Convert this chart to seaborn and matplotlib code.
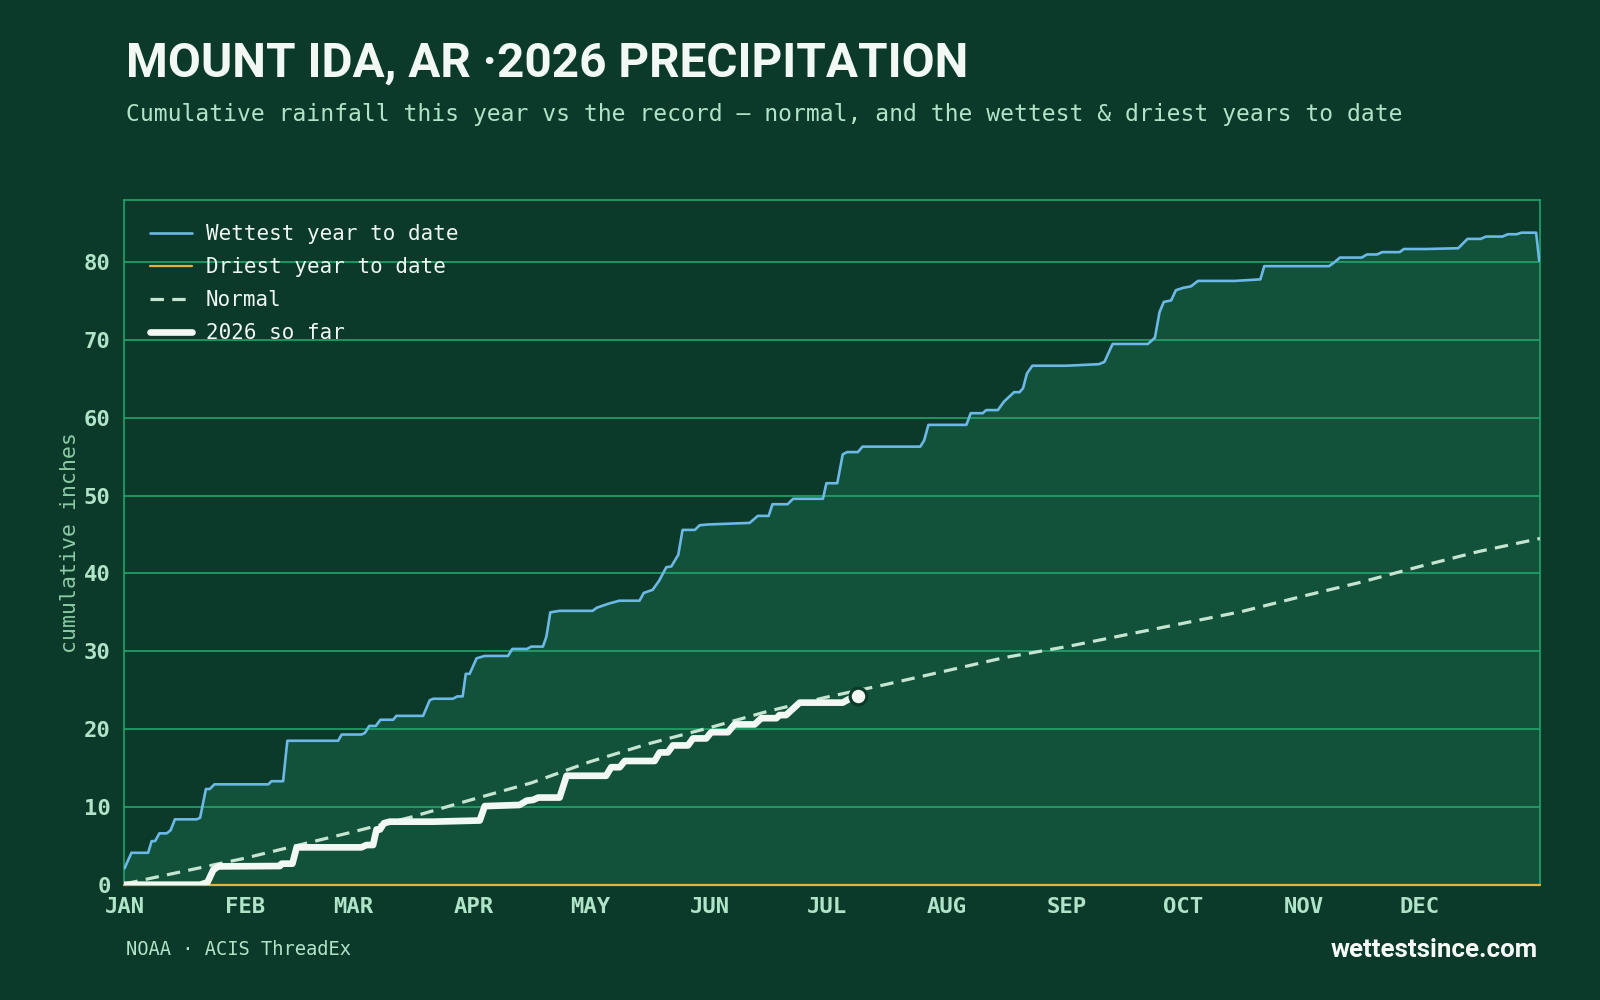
"""
Mount Ida, AR cumulative precipitation: 2026 vs wettest, driest and normal
"""

import numpy as np
import pandas as pd
import matplotlib
matplotlib.use('Agg')
import matplotlib.pyplot as plt
import seaborn as sns

# Day-of-year positions for month labels
month_days = [0, 31, 59, 90, 120, 151, 181, 212, 243, 273, 304, 334]
month_labels = ['JAN', 'FEB', 'MAR', 'APR', 'MAY', 'JUN',
                'JUL', 'AUG', 'SEP', 'OCT', 'NOV', 'DEC']

# Wettest year to date (day of year, cumulative inches)
wet_day = [0, 1.8, 6.1, 7, 7.9, 9, 10.9, 11.9, 13, 18.6,
           19.5, 21, 22, 23.2, 37.1, 37.9, 40.9, 42, 55.1, 56,
           61.1, 62, 63.1, 64.8, 66, 69.3, 70.1, 77, 78.7, 79.6,
           84.7, 85.8, 87.2, 88, 89, 90.8, 92.9, 98.9, 100, 103.8,
           104.9, 107.9, 108.8, 109.8, 112.2, 120.7, 121.8, 124.7, 127.6, 132.8,
           133.9, 136.2, 137.9, 139.7, 141, 142.8, 143.9, 147.1, 148.3, 150.6,
           161.2, 163.3, 166.1, 167.1, 171, 172.4, 180.1, 181, 183.8, 185.2,
           186.3, 189.1, 190.3, 205.2, 206.2, 207.3, 217.1, 218.2, 221.3, 222.2,
           225.2, 226.8, 229.4, 230.8, 231.7, 232.7, 234.1, 242.9, 251.3, 252.7,
           254.8, 263.9, 265.7, 266.9, 268, 269.9, 271.1, 272.9, 275, 276.8,
           286.2, 292.9, 293.9, 310.6, 312, 313.4, 319, 320.4, 323, 324.3,
           328.8, 329.9, 335.5, 343.9, 346.3, 349.7, 351.1, 355.3, 356.7, 359,
           360.2, 364, 364.8]
wet_val = [2.1, 4.1, 4.1, 5.6, 5.6, 6.6, 6.6, 7.0, 8.4, 8.4,
           8.6, 12.3, 12.3, 12.9, 12.9, 13.3, 13.3, 18.5, 18.5, 19.3,
           19.3, 19.5, 20.4, 20.4, 21.2, 21.2, 21.7, 21.7, 23.7, 23.9,
           23.9, 24.2, 24.2, 27.1, 27.1, 29.1, 29.4, 29.4, 30.3, 30.3,
           30.6, 30.6, 31.9, 35.0, 35.2, 35.2, 35.6, 36.1, 36.5, 36.5,
           37.5, 37.9, 39.1, 40.8, 40.9, 42.4, 45.6, 45.6, 46.2, 46.3,
           46.5, 47.4, 47.4, 48.9, 48.9, 49.6, 49.6, 51.6, 51.6, 55.3,
           55.6, 55.6, 56.3, 56.3, 57.1, 59.1, 59.1, 60.6, 60.6, 61.0,
           61.0, 62.1, 63.3, 63.3, 63.8, 65.7, 66.7, 66.7, 66.9, 67.2,
           69.5, 69.5, 70.3, 73.6, 74.9, 75.1, 76.4, 76.7, 76.9, 77.6,
           77.6, 77.8, 79.5, 79.5, 80.0, 80.6, 80.6, 81.0, 81.0, 81.3,
           81.3, 81.7, 81.7, 81.8, 83.0, 83.0, 83.3, 83.3, 83.6, 83.6,
           83.8, 83.8, 80.2]

# Driest year to date: nothing all year
dry_day = [0, 365]
dry_val = [0.0, 0.0]

# Normal cumulative precipitation
normal_day = [0, 15, 31, 45, 59, 74, 90, 105, 120, 135, 151, 166, 181,
              196, 212, 227, 243, 258, 273, 288, 304, 319, 334, 349, 365]
normal_val = [0.1, 1.7, 3.4, 5.1, 6.8, 8.7, 11.0, 13.1, 15.8, 18.1, 20.2, 22.3, 24.1,
              25.7, 27.5, 29.2, 30.6, 32.1, 33.6, 35.1, 37.1, 38.9, 40.9, 42.8, 44.5]

# 2026 so far
y26_day = [0, 19.5, 21.4, 22.9, 24.2, 40.1, 40.5, 43.3, 44.4, 61.1,
           62.4, 64.1, 65, 65.9, 66.9, 68.4, 79.6, 91.6, 92.9, 101.9,
           103.7, 105.4, 106.7, 112.2, 114, 124.2, 125.5, 127.7, 129, 136.7,
           138, 140.1, 141.4, 145.3, 146.6, 150, 151.3, 155.6, 157.3, 162.5,
           164.2, 168.1, 168.9, 170.6, 174.1, 185.2, 187, 189.1]
y26_val = [0, 0, 0.3, 1.9, 2.35, 2.4, 2.7, 2.7, 4.8, 4.8,
           5.1, 5.1, 7.1, 7.1, 7.9, 8.1, 8.1, 8.25, 10.1, 10.25,
           10.8, 10.9, 11.2, 11.2, 14.0, 14.0, 15.1, 15.1, 15.9, 15.9,
           17.0, 17.0, 17.9, 17.9, 18.8, 18.8, 19.6, 19.6, 20.6, 20.6,
           21.4, 21.4, 21.8, 21.8, 23.4, 23.4, 23.9, 24.3]

# Colors
BG = '#0c3a2a'
FILL = '#13523a'
GRID = '#21a36b'
MINT = '#b0e4c8'
WET_C = '#6cb8e6'
DRY_C = '#e8b23a'
NORM_C = '#c6e4d2'
Y26_C = '#f2f8f4'

sns.set_theme(style='dark', rc={
    'figure.facecolor': BG,
    'axes.facecolor': BG,
    'axes.edgecolor': GRID,
    'savefig.facecolor': BG,
})
plt.rcParams['font.family'] = ['DejaVu Sans Mono', 'DejaVu Sans']

fig = plt.figure(figsize=(16, 10), dpi=100)
ax = fig.add_axes([0.0778, 0.1153, 0.8847, 0.6847])

wet_df = pd.DataFrame({'day': wet_day, 'inches': wet_val})
dry_df = pd.DataFrame({'day': dry_day, 'inches': dry_val})
norm_df = pd.DataFrame({'day': normal_day, 'inches': normal_val})
y26_df = pd.DataFrame({'day': y26_day, 'inches': y26_val})

ax.fill_between(wet_df['day'], 0, wet_df['inches'], color=FILL, lw=0, zorder=1)

sns.lineplot(data=wet_df, x='day', y='inches', ax=ax, color=WET_C, lw=1.9,
             label='Wettest year to date', zorder=3)
sns.lineplot(data=dry_df, x='day', y='inches', ax=ax, color=DRY_C, lw=1.6,
             label='Driest year to date', zorder=3, clip_on=False)
sns.lineplot(data=norm_df, x='day', y='inches', ax=ax, color=NORM_C, lw=2.3,
             label='Normal', zorder=4, dashes=False)
ax.lines[-1].set_dashes([4.2, 2.6])
sns.lineplot(data=y26_df, x='day', y='inches', ax=ax, color=Y26_C, lw=4.8,
             label='2026 so far', zorder=5)
ax.plot([y26_day[-1]], [y26_val[-1]], 'o', ms=12, mfc=Y26_C, mec=BG, mew=2.3,
        zorder=6)

ax.set_xlim(0, 365)
ax.set_ylim(0, 88)
ax.set_xticks(month_days)
ax.set_xticklabels(month_labels)
ax.set_yticks(range(0, 81, 10))

ax.set_axisbelow('line')
ax.grid(axis='y', color=GRID, lw=1.2)
ax.grid(axis='x', visible=False)
for side in ['left', 'right', 'top', 'bottom']:
    ax.spines[side].set_color(GRID)
    ax.spines[side].set_linewidth(1.2)

ax.tick_params(axis='both', colors='#8a9e94', length=6, width=1,
               labelcolor=MINT, labelsize=16)
ax.tick_params(axis='x', pad=3)
ax.tick_params(axis='y', length=5, pad=5)
for lbl in ax.get_xticklabels() + ax.get_yticklabels():
    lbl.set_fontweight('bold')

ax.set_xlabel('')
ax.set_ylabel('cumulative inches', color='#8cc9a6', fontsize=15.5, labelpad=3)

leg = ax.legend(loc='upper left', bbox_to_anchor=(0.005, 0.992), frameon=False,
                fontsize=15, handlelength=2.0, handletextpad=0.65,
                labelspacing=0.62)
for t in leg.get_texts():
    t.set_color('#eef7f1')

fig.text(0.0785, 0.9235, 'MOUNT IDA, AR ·2026 PRECIPITATION', color='#f2f8f4',
         fontsize=34.4, fontweight='bold', family=['Roboto', 'DejaVu Sans'],
         ha='left', va='baseline')
fig.text(0.0785, 0.8786,
         'Cumulative rainfall this year vs the record \u2014 normal, and the wettest & driest years to date',
         color=MINT, fontsize=16.6, ha='left', va='baseline')
fig.text(0.0785, 0.045, 'NOAA · ACIS ThreadEx', color=MINT, fontsize=13.5,
         ha='left', va='baseline')
fig.text(0.961, 0.043, 'wettestsince.com', color='#f7fbf8', fontsize=18.6,
         fontweight='bold', family=['Roboto', 'DejaVu Sans'],
         ha='right', va='baseline')

fig.savefig('out.png', dpi=100, facecolor=BG)
